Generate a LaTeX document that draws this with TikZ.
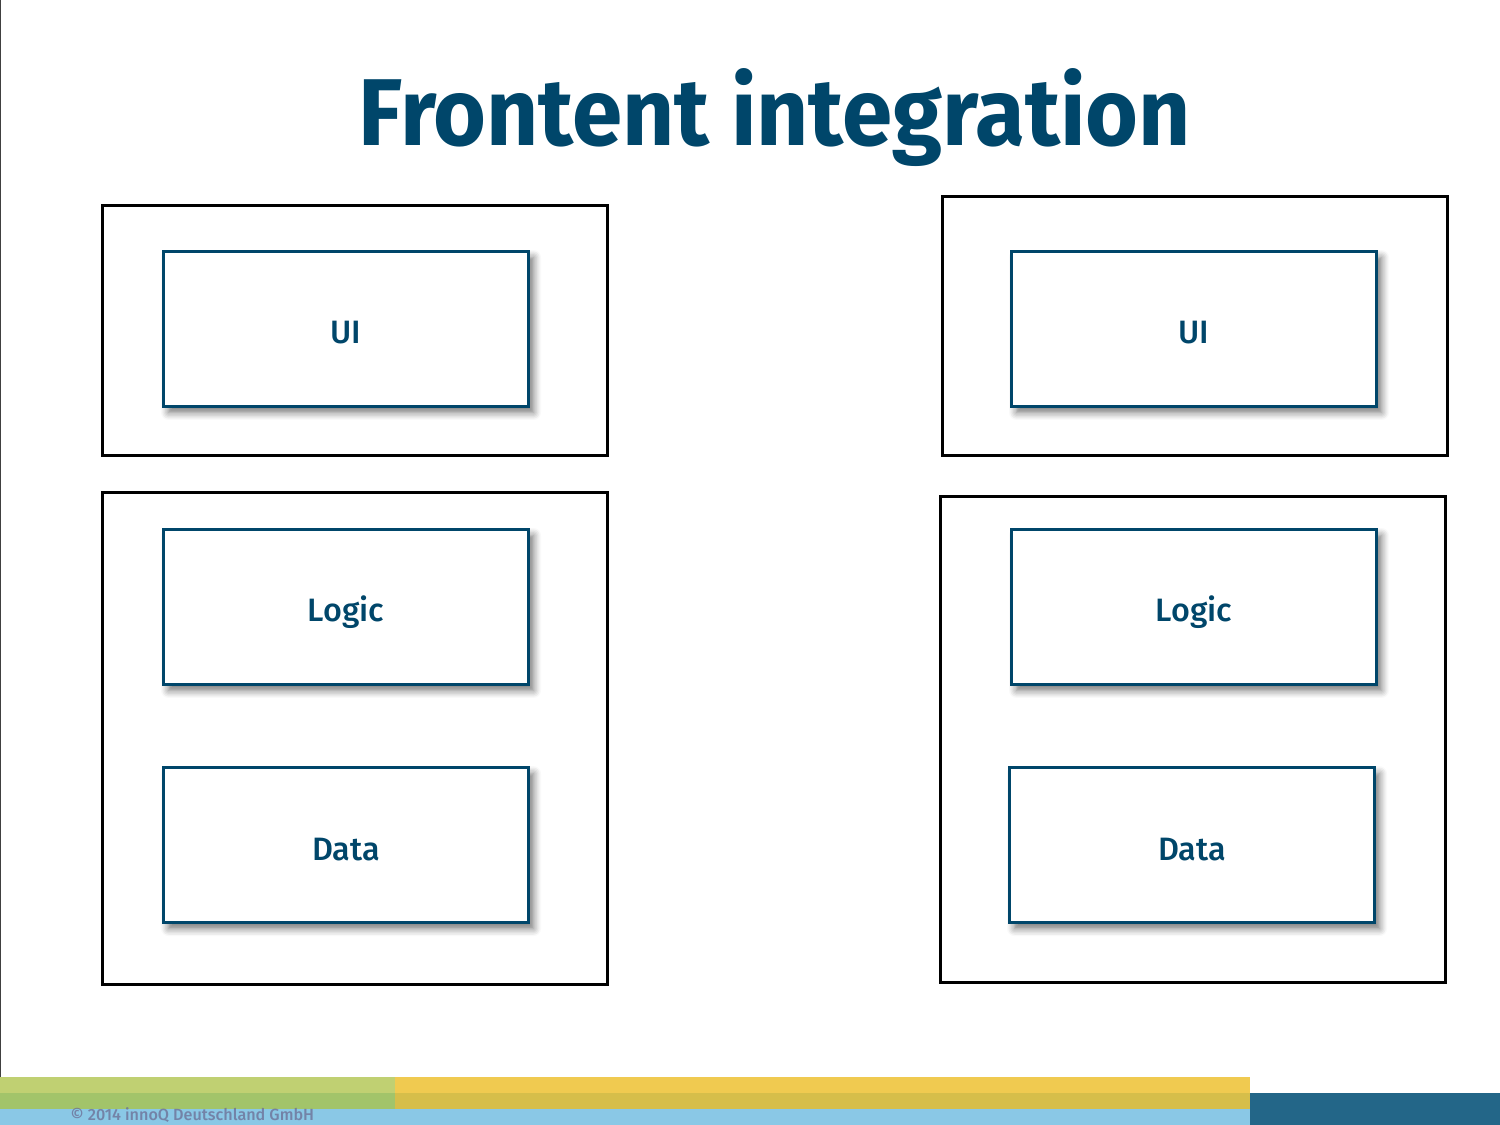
\documentclass[tikz,border=0pt]{standalone}
\usepackage{fontspec}
\setmainfont{Fira Sans}
\newfontfamily\labelfont{Fira Sans}[UprightFont={* Medium}]
\usepackage{tikz}
\usetikzlibrary{positioning,shadows.blur}
\definecolor{innoblue}{RGB}{0,70,106}
\definecolor{barlime}{RGB}{192,208,114}
\definecolor{bargreen}{RGB}{162,196,106}
\definecolor{barsun}{RGB}{240,202,80}
\definecolor{barmustard}{RGB}{214,190,74}
\definecolor{barsky}{RGB}{138,200,230}
\definecolor{barnavy}{RGB}{35,102,136}
\tikzset{
  tier/.style   = {draw=black, line width=0.03cm, minimum width=5.05cm, anchor=north west},
  layer/.style  = {draw=innoblue, line width=0.03cm, fill=white, minimum width=3.65cm,
                   minimum height=1.55cm, text=innoblue, font=\fontsize{9.2pt}{11pt}\labelfont,
                   text height=9pt, text depth=0.5pt,
                   blur shadow={shadow xshift=0.05cm, shadow yshift=-0.06cm, shadow blur steps=6, shadow opacity=55}},
  headline/.style = {text=innoblue, font=\fontsize{27pt}{30pt}\selectfont\bfseries, xscale=0.955},
}
\begin{document}
\begin{tikzpicture}[x=0.01cm, y=-0.01cm, node distance=0.80cm]
  \useasboundingbox (0,0) rectangle (1500,1125);
  \draw[black!75, line width=0.01cm] (0,0) rectangle (1500,1125);
  % title
  \node[headline] (title) at (775,118) {Frontent integration};
  % left column
  \node[tier, minimum height=2.50cm] (ltop) at (101,204) {};
  \node[tier, minimum height=4.92cm] (lbot) at (101,491) {};
  \node[layer] (lui)    at (346,329) {UI};
  \node[layer] (llogic) at (346,607) {Logic};
  \node[layer, below=of llogic] (ldata) {Data};
  % right column
  \node[tier, minimum height=2.59cm] (rtop) at (941,195) {};
  \node[tier, minimum height=4.86cm] (rbot) at (939,495) {};
  \node[layer] (rui)    at (1194,329) {UI};
  \node[layer] (rlogic) at (1194,607) {Logic};
  \node[layer, below=of rlogic, xshift=-0.02cm] (rdata) {Data};
  % footer
  \fill[barlime]    (0,1077) rectangle (395,1093);
  \fill[bargreen]   (0,1093) rectangle (395,1109);
  \fill[barsun]     (395,1077) rectangle (1250,1093);
  \fill[barmustard] (395,1093) rectangle (1250,1109);
  \fill[barsky]     (0,1109) rectangle (1250,1125);
  \fill[barnavy]    (1250,1093) rectangle (1500,1125);
  \node[anchor=base west, text=gray!85!blue, opacity=0.75, font=\fontsize{4.6pt}{6pt}\labelfont, inner sep=0pt] (copy) at (70,1120) {© 2014 innoQ Deutschland GmbH};
\end{tikzpicture}
\end{document}
